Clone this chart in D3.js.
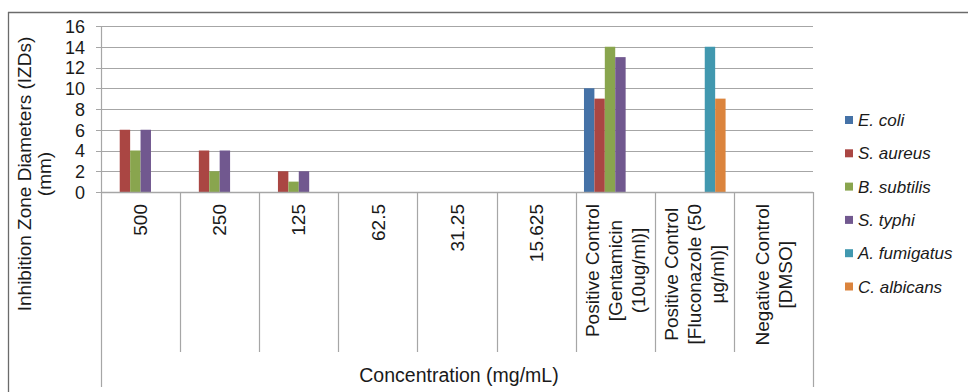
<!DOCTYPE html>
<html><head><meta charset="utf-8">
<script src="https://cdn.jsdelivr.net/npm/d3@7"></script>
<style>
html,body{margin:0;padding:0;background:#fff;}
text{font-family:"Liberation Sans",Arial,sans-serif;fill:#1a1a1a;}
</style></head>
<body>
<svg id="c" width="968" height="392"></svg>
<script>
const categories = [
  ["500"], ["250"], ["125"], ["62.5"], ["31.25"], ["15.625"],
  ["Positive Control", "[Gentamicin", "(10ug/ml)]"],
  ["Positive Control", "[Fluconazole (50", "µg/ml)]"],
  ["Negative Control", "[DMSO]"]
];
const seriesNames = ["E. coli", "S. aureus", "B. subtilis", "S. typhi", "A. fumigatus", "C. albicans"];
const eColi      = [0, 0, 0, 0, 0, 0, 10, 0, 0];
const sAureus    = [6, 4, 2, 0, 0, 0, 9, 0, 0];
const bSubtilis  = [4, 2, 1, 0, 0, 0, 14, 0, 0];
const sTyphi     = [6, 4, 2, 0, 0, 0, 13, 0, 0];
const aFumigatus = [0, 0, 0, 0, 0, 0, 0, 14, 0];
const cAlbicans  = [0, 0, 0, 0, 0, 0, 0, 9, 0];
const yTicks = [0, 2, 4, 6, 8, 10, 12, 14, 16];
const colors = ["#4572A7", "#AA4643", "#89A54E", "#71588F", "#4198AF", "#DB843D"];

const seriesValues = [eColi, sAureus, bSubtilis, sTyphi, aFumigatus, cAlbicans];
const svg = d3.select("#c");

// outer frame (top and left edges visible)
svg.append("line").attr("x1", 8).attr("x2", 968).attr("y1", 12.5).attr("y2", 12.5).attr("stroke", "#6b6b6b").attr("stroke-width", 1.3);
svg.append("line").attr("x1", 8.5).attr("x2", 8.5).attr("y1", 12).attr("y2", 392).attr("stroke", "#6b6b6b").attr("stroke-width", 1.3);

const x0 = 101, x1 = 813, yTop = 26, yBot = 192;
const idx = d3.range(categories.length);
const x = d3.scaleBand().domain(idx).range([x0, x1]).paddingInner(0).paddingOuter(0);
const groupPad = 0.105;
const xs = d3.scaleBand().domain(d3.range(seriesNames.length))
  .range([x.bandwidth() * groupPad, x.bandwidth() * (1 - groupPad)]);
const y = d3.scaleLinear().domain([0, 16]).range([yBot, yTop]);

// gridlines
svg.append("g").selectAll("line").data(yTicks).join("line")
  .attr("x1", 96).attr("x2", x1).attr("y1", d => Math.round(y(d)) + 0.5).attr("y2", d => Math.round(y(d)) + 0.5)
  .attr("stroke", "#a6a6a6").attr("stroke-width", 1.2);

// y axis
const yAxis = d3.axisLeft(y).tickValues(yTicks).tickSize(0).tickPadding(0);
const gy = svg.append("g").attr("transform", "translate(85,0)").call(yAxis);
gy.select(".domain").remove();
gy.selectAll("text").style("font-size", "18px").attr("fill", "#1a1a1a").attr("dy", "0.36em");

// axis lines (multi-level category style)
svg.append("line").attr("x1", x0 + 0.5).attr("x2", x0 + 0.5).attr("y1", yTop).attr("y2", 387).attr("stroke", "#a6a6a6").attr("stroke-width", 1.2);
svg.append("line").attr("x1", x1 + 0.5).attr("x2", x1 + 0.5).attr("y1", yBot).attr("y2", 387).attr("stroke", "#a6a6a6").attr("stroke-width", 1.2);
svg.append("g").selectAll("line").data(idx.slice(1)).join("line")
  .attr("x1", d => Math.round(x(d)) + 0.5).attr("x2", d => Math.round(x(d)) + 0.5)
  .attr("y1", yBot).attr("y2", 352).attr("stroke", "#a6a6a6").attr("stroke-width", 1.2);

// bars
const groups = svg.append("g").selectAll("g").data(seriesValues).join("g")
  .attr("fill", (d, i) => colors[i]);
groups.selectAll("rect").data((vals, si) => vals.map((v, ci) => ({v, ci, si})).filter(d => d.v > 0)).join("rect")
  .attr("x", d => x(d.ci) + xs(d.si))
  .attr("width", xs.bandwidth())
  .attr("y", d => y(d.v))
  .attr("height", d => y(0) - y(d.v));

// x-axis bottom line
svg.append("line").attr("x1", x0).attr("x2", x1).attr("y1", yBot + 0.5).attr("y2", yBot + 0.5).attr("stroke", "#a6a6a6").attr("stroke-width", 1.4);

// category labels (rotated)
const lineH = 23;
categories.forEach((lines, ci) => {
  const cx = x(ci) + x.bandwidth() / 2;
  const g = svg.append("g");
  const texts = lines.map(l => g.append("text").text(l).style("font-size", "19px"));
  const maxW = d3.max(texts, t => t.node().getComputedTextLength());
  const cy = 204 + maxW / 2;
  const n = lines.length;
  texts.forEach((t, li) => {
    const lx = cx + (li - (n - 1) / 2) * lineH;
    t.attr("text-anchor", "middle")
     .attr("transform", `translate(${lx},${cy}) rotate(-90)`)
     .attr("dy", "0.35em");
  });
});

// axis titles
svg.append("text").attr("x", (x0 + x1) / 2 + 2).attr("y", 382).attr("text-anchor", "middle")
  .style("font-size", "19.5px").text("Concentration (mg/mL)");
const yt = svg.append("text").attr("transform", "translate(0,174) rotate(-90)").attr("text-anchor", "middle").style("font-size", "19px");
yt.append("tspan").attr("x", 0).attr("y", 31).text("Inhibition Zone Diameters (IZDs)");
yt.append("tspan").attr("x", 0).attr("y", 51).text("(mm)");

// legend
const leg = svg.append("g").selectAll("g").data(seriesNames).join("g")
  .attr("transform", (d, i) => `translate(845,${120 + i * 33.3})`);
leg.append("rect").attr("x", 0).attr("y", -4).attr("width", 8).attr("height", 8).attr("fill", (d, i) => colors[i]);
leg.append("text").attr("x", 13).attr("dy", "0.36em").style("font-size", "17px").style("font-style", "italic").text(d => d);
</script>
</body></html>
